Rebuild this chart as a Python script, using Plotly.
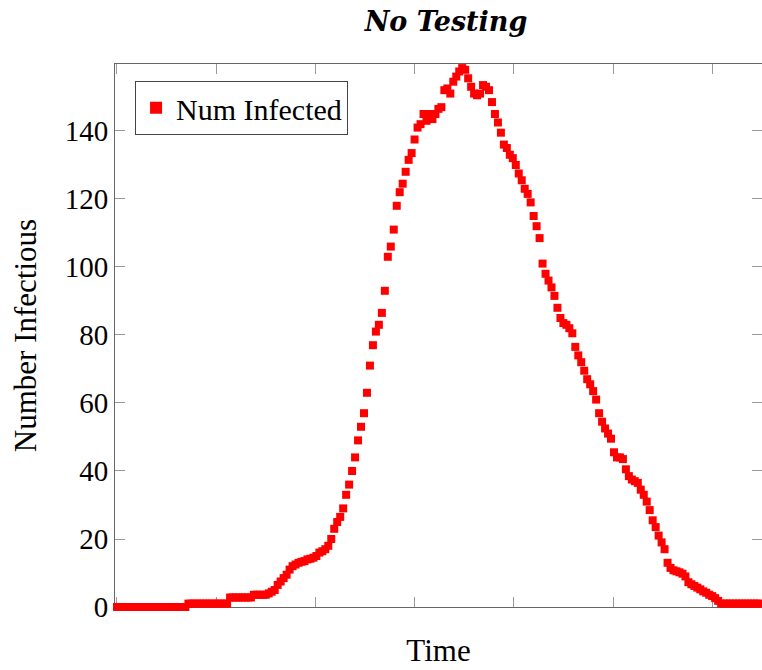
import plotly.graph_objects as go

# time step between samples (hidden x units)
dt = 3
num_infected = [
    0, 0, 0, 0, 0, 0, 0, 0, 0, 0, 0, 0, 0, 0, 0, 0, 0, 0, 0, 0, 0, 0, 0, 0,
    1, 1, 1, 1, 1, 1, 1, 1, 1, 1, 1, 1, 1, 1,
    2.8, 2.8, 2.8, 2.8, 2.8, 2.8, 2.8, 2.8,
    3.6, 3.6, 3.6, 3.6, 3.6,
    4, 4.5, 5, 6.5, 7.5, 8.5, 9.5, 11, 12, 12.5, 13, 13.3, 13.5, 14, 14.2, 14.5,
    15, 16, 16.4, 17, 18, 20, 23, 25, 26.5, 29, 33, 36, 40, 44, 49, 53, 57, 63,
    71, 77, 81, 83, 86.5, 93, 103, 106, 111, 118, 122, 124.5, 128, 131.5, 133.5,
    137.5, 141, 142, 145, 143, 145, 143.5, 145, 146.5, 147, 152, 152.5, 151,
    154.5, 156, 157.5, 158.5, 158, 155.5, 153, 151, 150.5, 151, 153.5, 153, 152,
    148.5, 145, 142.5, 139.5, 136, 135, 133, 132, 130, 127.5, 125.5, 123, 121.5,
    119, 115, 112, 108.5, 101, 98, 96, 94, 91.5, 88, 85, 83.5, 83, 82, 80.5,
    76.5, 74, 72, 69.5, 67, 65.5, 63.5, 61, 57, 54.5, 52.5, 51, 49.5, 45.5, 44,
    44, 43.5, 40.5, 38.5, 37.5, 37, 36.5, 34.5, 33, 31, 28.5, 25.5, 23.5, 21,
    19, 17, 13, 11.5, 10.8, 10.5, 10.2, 9.8, 9, 7.3, 6.7, 6.2, 5.7, 5.2, 4.6,
    4.2, 3.6, 3.2, 2.6, 1.8,
    1, 1, 1, 1, 1, 1, 1, 1, 1, 1, 1, 1, 1, 1, 1,
]
time = [i * dt for i in range(len(num_infected))]

x_ticks = [0, 100, 200, 300, 400, 500, 600]
y_ticks = [0, 20, 40, 60, 80, 100, 120, 140]

FONT = "Liberation Serif"
AX = "#666666"
TK = "#9a9a9a"

fig = go.Figure()
fig.add_trace(go.Scatter(
    x=time, y=num_infected, mode="markers", name="Num Infected",
    marker=dict(symbol="square", size=8, color="#ff0000", line=dict(width=0)),
    cliponaxis=False,
))
# invisible trace carrying the right-side ticks
fig.add_trace(go.Scatter(x=[time[0]], y=[0], yaxis="y2", mode="markers",
                         marker=dict(opacity=0), showlegend=False, hoverinfo="skip"))

fig.update_layout(
    width=762, height=670,
    margin=dict(l=115, r=0, t=64, b=63),
    paper_bgcolor="white", plot_bgcolor="white",
    font=dict(family=FONT, size=24, color="black"),
    title=dict(text="<b><i>No Testing</i></b>", x=446 / 762, xanchor="center",
               y=1 - 22 / 670, yanchor="middle", yref="container",
               font=dict(family="DejaVu Serif", size=27)),
    showlegend=True,
    legend=dict(x=0.031, y=0.969, xanchor="left", yanchor="top",
                bgcolor="white", bordercolor="#444444", borderwidth=1,
                font=dict(family=FONT, size=30), itemsizing="constant",
                itemwidth=30, tracegroupgap=0),
    xaxis=dict(range=[-2, 650.2], tickvals=x_ticks, showticklabels=False,
               ticks="inside", ticklen=10, tickcolor=TK, tickwidth=1,
               showline=True, linecolor=AX, linewidth=1, mirror="ticks",
               showgrid=False, zeroline=False, layer="below traces",
               title=dict(text="Time", standoff=32, font=dict(family=FONT, size=31))),
    yaxis=dict(range=[0, 159.7], tickvals=y_ticks, ticks="inside", ticklen=10,
               tickcolor=TK, tickwidth=1, showline=True, linecolor=AX, linewidth=1,
               mirror=False, showgrid=False, zeroline=False, layer="below traces",
               tickfont=dict(family=FONT, size=29),
               title=dict(text="Number Infectious", standoff=18,
                          font=dict(family=FONT, size=31))),
    yaxis2=dict(range=[0, 159.7], tickvals=y_ticks, overlaying="y", side="right",
                ticks="inside", ticklen=10, tickcolor=TK, tickwidth=1,
                showticklabels=False, showline=False, showgrid=False, zeroline=False),
)

fig.write_html("out.html")
